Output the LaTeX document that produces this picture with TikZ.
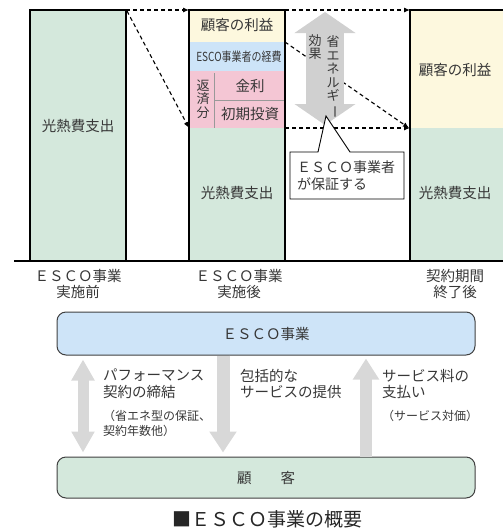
\documentclass[tikz,border=0pt]{standalone}
\usepackage{fontspec}
\setmainfont{Noto Sans CJK JP}
\usetikzlibrary{arrows.meta}
\definecolor{grn}{RGB}{212,232,220}
\definecolor{ylw}{RGB}{253,248,222}
\definecolor{blu}{RGB}{205,228,248}
\definecolor{pnk}{RGB}{244,198,212}
\definecolor{txtc}{RGB}{55,55,55}
\definecolor{garr}{RGB}{208,208,208}
\definecolor{garr2}{RGB}{216,216,216}
\definecolor{boxblue}{RGB}{206,228,248}
\tikzset{
  t14/.style={font=\fontsize{14.5}{16.5}\selectfont, text=txtc, inner sep=0pt, align=center},
  t13/.style={font=\fontsize{13}{13.5}\selectfont, text=txtc, inner sep=0pt, align=center},
  t12/.style={font=\fontsize{12}{15}\selectfont, text=txtc, inner sep=0pt, align=left},
  barline/.style={line width=1.5pt, black},
  dsh/.style={dash pattern=on 4pt off 3pt, line width=1.1pt, -{Latex[length=6pt,width=5pt]}},
  bigbox/.style={draw=black!75, line width=1pt, rounded corners=9pt, minimum width=418pt, t14},
  garrow/.style={draw=garr2, line width=11pt}
}
\begin{document}
\begin{tikzpicture}[x=1pt,y=-1pt]
\useasboundingbox (0,0) rectangle (503,528);
% coordinates
\coordinate (Ltr) at (126,10);
\coordinate (Mtl) at (189,10);
\coordinate (Mtr) at (285,10);
\coordinate (Mgreen) at (189,128);
\coordinate (Mblue) at (285,42);
\coordinate (Rtl) at (410,10);
\coordinate (Rmid) at (410,128);
\coordinate (MRmid) at (285,128);
\coordinate (base0) at (14,261);
\coordinate (base1) at (503,261);
% left bar
\fill[grn] (30,10) rectangle (126,261);
\draw[barline] (30,261) -- (30,10) -- (126,10) -- (126,261);
% middle bar
\fill[ylw] (189,10) rectangle (285,42);
\fill[blu] (189,42) rectangle (285,71);
\fill[pnk] (189,71) rectangle (285,128);
\fill[grn] (189,128) rectangle (285,261);
\draw[black!40, line width=0.9pt] (214,73) -- (214,128) (214,100) -- (285,100);
\draw[barline] (189,261) -- (189,10) -- (285,10) -- (285,261);
% right bar
\fill[ylw] (410,10) rectangle (504,128);
\fill[grn] (410,128) rectangle (504,261);
\draw[barline] (410,261) -- (410,10) -- (504,10);
% baseline
\draw[line width=1.8pt] (base0) -- (base1);
% labels in bars
\node[t14] (l1) at (78,126) {光熱費支出};
\node[t14] (m1) at (237,25) {顧客の利益};
\node[t14] (m2) at (239,57) {\fontsize{12.5}{14}\selectfont\scalebox{0.8}[1]{ESCO事業者の経費}};
\node[t13] (m3) at (203,99) {返\\済\\分};
\node[t14] (m4) at (250,86) {金利};
\node[t14] (m5) at (250,114) {初期投資};
\node[t14] (m6) at (237,193) {光熱費支出};
\node[t14] (r1) at (455,70) {顧客の利益};
\node[t14] (r2) at (455,193) {光熱費支出};
% dashed arrows
\draw[dsh] (Ltr) -- (Mtl);
\draw[dsh] ([shift={(1,1)}]Ltr) -- (Mgreen);
\draw[dsh] (Mtr) -- (Rtl);
\draw[dsh] (Mblue) -- ([shift={(-1,0)}]Rmid);
\draw[dsh] (MRmid) -- (Rmid);
% big gray double arrow
\coordinate (gA) at (325,12);
\coordinate (gB) at (325,125);
\draw[draw=garr, line width=38pt, {Triangle[length=21pt,width=60pt]}-{Triangle[length=21pt,width=60pt]}] (gA) -- (gB);
\node[t13] (eff1) at (315,47) {効\\果};
\node[t13] (eff2) at (333,77) {省\\エ\\ネ\\ル\\ギ\\\rotatebox[origin=c]{-90}{ー}};
% callout
\draw[black, line width=0.9pt, fill=white] (350,152) -- (326,116) -- (318,152) -- (290,152) -- (290,199) -- (404,199) -- (404,152) -- cycle;
\node[t14, font=\fontsize{14}{17}\selectfont, align=left, anchor=west] (call) at (297,176) {ＥＳＣＯ事業者\\が保証する};
% bottom labels
\node[t14] (b1) at (78,284) {ＥＳＣＯ事業\\実施前};
\node[t14] (b2) at (239,284) {ＥＳＣＯ事業\\実施後};
\node[t14] (b3) at (455,284) {契約期間\\終了後};
% boxes
\node[bigbox, fill=boxblue, minimum height=43pt] (esco) at (266,333.5) {ＥＳＣＯ事業};
\node[bigbox, fill=grn, minimum height=41pt] (cust) at (266,477.5) {顧　　客};
% gray arrows
\coordinate (ax1) at (83,400);
\coordinate (ax2) at (223,400);
\coordinate (ax3) at (366,400);
\draw[garrow, {Triangle[length=21pt,width=22pt]}-{Triangle[length=21pt,width=22pt]}, shorten <=4pt, shorten >=4pt] (esco.south -| ax1) -- (cust.north -| ax1);
\draw[garrow, line width=13pt, -{Triangle[length=21pt,width=26pt]}, shorten >=4pt] (esco.south -| ax2) -- (cust.north -| ax2);
\draw[garrow, line width=12pt, -{Triangle[length=21pt,width=25pt]}, shorten >=3pt] (cust.north -| ax3) -- (esco.south -| ax3);
% arrow texts
\node[t14, align=left, anchor=north west] (p1) at (103,369) {パフォーマンス\\契約の締結};
\node[t12, anchor=north west, font=\fontsize{12}{15}\selectfont] (p2) at (103,410) {（省エネ型の保証、\\契約年数他）};
\node[t14, align=left, anchor=north west] (s1) at (240,369) {包括的な\\サービスの提供};
\node[t14, align=left, anchor=north west] (f1) at (382,369) {サービス料の\\支払い};
\node[t12, anchor=north west] (f2) at (382,410) {（サービス対価）};
% caption
\node[inner sep=0pt, font=\fontsize{19}{22}\selectfont, text=black!85] (cap) at (267,519) {■ＥＳＣＯ事業の概要};
\end{tikzpicture}
\end{document}
